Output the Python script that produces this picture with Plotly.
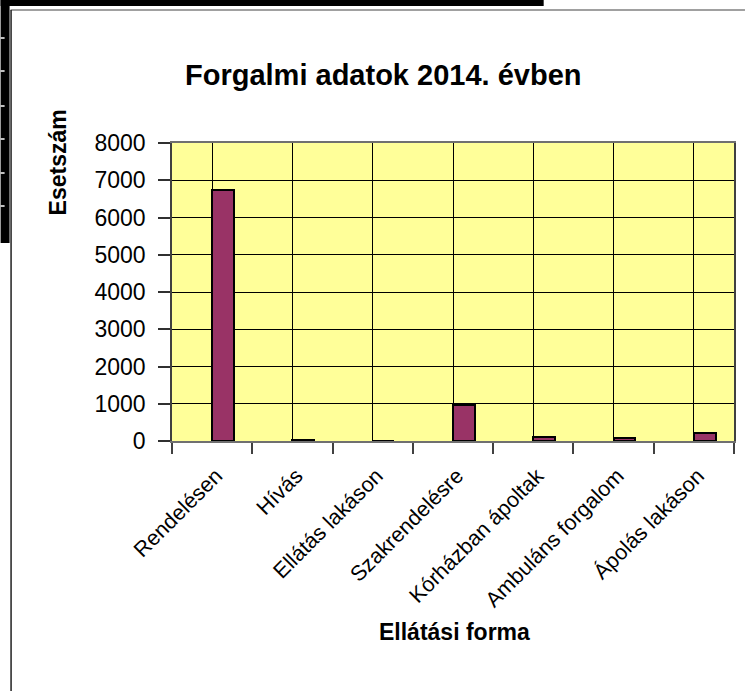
import plotly.graph_objects as go

categories = ["Rendelésen", "Hívás", "Ellátás lakáson", "Szakrendelésre",
              "Kórházban ápoltak", "Ambuláns forgalom", "Ápolás lakáson"]
values = [6740, 15, 10, 980, 115, 90, 205]
y_ticks = [0, 1000, 2000, 3000, 4000, 5000, 6000, 7000, 8000]

W, H = 747, 691
L, R, T, B = 172, 736, 143, 441  # plot area in pixels

def px(x):
    return (x - L) / (R - L)

def py(y):
    return (B - y) / (B - T)

FONT = "Arial, Liberation Sans, sans-serif"
idx = list(range(len(categories)))

fig = go.Figure()
fig.add_trace(go.Bar(
    x=idx, y=values,
    width=0.27, offset=0,
    marker=dict(color="#993366", line=dict(color="black", width=2)),
    showlegend=False,
))

fig.update_layout(
    width=W, height=H,
    margin=dict(l=L, r=W - R, t=T, b=H - B, pad=0),
    paper_bgcolor="white",
    plot_bgcolor="#FFFF99",
    font=dict(family=FONT, color="black"),
    bargap=0,
)

fig.update_xaxes(
    range=[-0.5, len(categories) - 0.5],
    tickvals=idx, ticktext=categories,
    tickangle=-45, tickfont=dict(size=21.5),
    ticks="", ticklabelstandoff=12, ticklabelshift=4,
    showgrid=True, gridcolor="black", gridwidth=1,
    zeroline=False,
    showline=True, linecolor="#707070", linewidth=1.5, mirror=True,
    minor=dict(tickvals=[i - 0.5 for i in range(len(categories) + 1)],
               ticks="outside", ticklen=11, tickcolor="#404040", tickwidth=1.5,
               showgrid=False),
)
fig.update_yaxes(
    range=[0, 8000], tickvals=y_ticks,
    tickfont=dict(size=23),
    ticks="outside", ticklen=12, tickcolor="#303030", tickwidth=1.5,
    ticklabelstandoff=8,
    showgrid=True, gridcolor="black", gridwidth=1,
    zeroline=False,
    showline=True, linecolor="#404040", linewidth=1.5, mirror=True,
)

# Titles
fig.add_annotation(text="<b>Forgalmi adatok 2014. évben</b>", xref="paper", yref="paper",
                   x=px(384), y=py(75), showarrow=False, font=dict(size=29),
                   xanchor="center", yanchor="middle")
fig.add_annotation(text="<b>Esetszám</b>", xref="paper", yref="paper",
                   x=px(58), y=py(162), showarrow=False, font=dict(size=23),
                   textangle=-90, xanchor="center", yanchor="middle")
fig.add_annotation(text="<b>Ellátási forma</b>", xref="paper", yref="paper",
                   x=px(456), y=py(632), showarrow=False, font=dict(size=23),
                   xanchor="center", yanchor="middle")

# Page decorations around the chart frame
shapes = [
    dict(type="rect", xref="paper", yref="paper", x0=px(0), x1=px(545), y0=py(0), y1=py(6),
         fillcolor="black", line=dict(width=0), layer="above"),
    dict(type="rect", xref="paper", yref="paper", x0=px(0), x1=px(9), y0=py(0), y1=py(243),
         fillcolor="black", line=dict(width=0), layer="above"),
    dict(type="line", xref="paper", yref="paper", x0=px(10), x1=px(747), y0=py(10), y1=py(10),
         line=dict(color="#808080", width=1.5), layer="above"),
    dict(type="line", xref="paper", yref="paper", x0=px(10.5), x1=px(10.5), y0=py(10), y1=py(691),
         line=dict(color="#202020", width=1.5), layer="above"),
]
for gy in [38, 71, 106, 139, 173, 206]:
    shapes.append(dict(type="line", xref="paper", yref="paper", x0=px(0), x1=px(4),
                       y0=py(gy), y1=py(gy), line=dict(color="white", width=1.5), layer="above"))
fig.update_layout(shapes=shapes)

fig.write_html("out.html",
               config={"displayModeBar": False},
               post_script="document.body.style.margin='0';document.body.style.overflow='hidden';")
